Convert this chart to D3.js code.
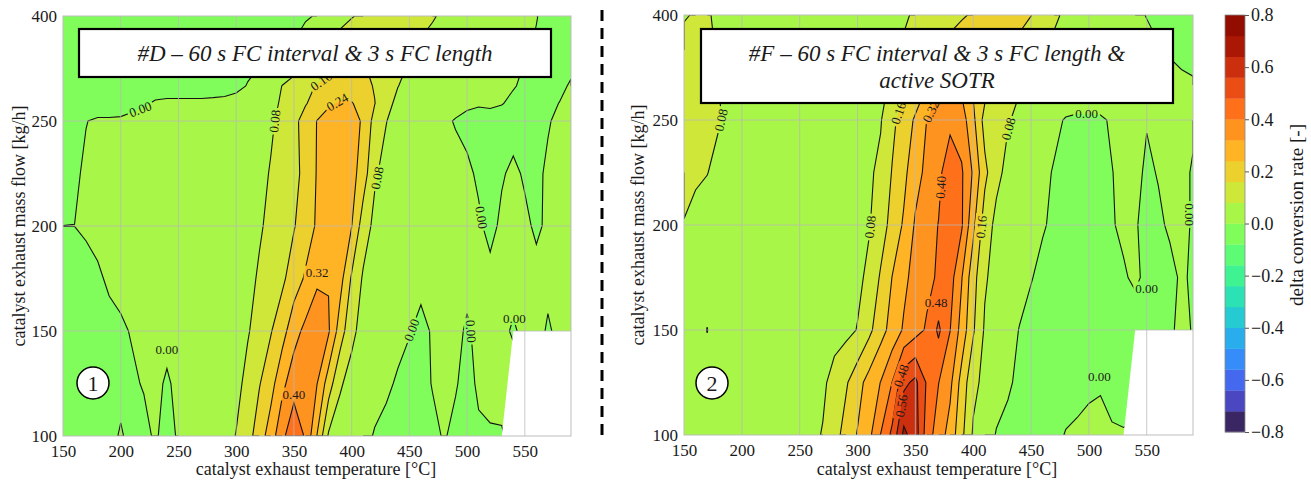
<!DOCTYPE html>
<html>
<head>
<meta charset="utf-8">
<script src="https://cdn.jsdelivr.net/npm/d3@7/dist/d3.min.js"></script>
<style>
  html, body { margin: 0; padding: 0; background: #fff; }
  svg text { font-family: "Liberation Serif", "Times New Roman", serif; fill: #1a1a1a; }
</style>
</head>
<body>
<svg id="chart" width="1311" height="482"></svg>
<script>
// Operating-point grid
const temperatures = [150,160,170,180,190,200,210,220,230,240,250,260,270,280,290,300,310,320,330,340,350,360,370,380,390,400,410,420,430,440,450,460,470,480,490,500,510,520,530,540,550,560,570,580,590];
const massFlows = [100,125,150,175,200,225,250,275,300,350,400];

// Contour levels of the delta conversion rate
const levels = [-0.80,-0.72,-0.64,-0.56,-0.48,-0.40,-0.32,-0.24,-0.16,-0.08,0.00,0.08,0.16,0.24,0.32,0.40,0.48,0.56,0.64,0.72,0.80];

const tempTicks = [150,200,250,300,350,400,450,500,550];
const flowTicks = [100,150,200,250,400];
const rateTicks = [-0.8,-0.6,-0.4,-0.2,0.0,0.2,0.4,0.6,0.8];

// Operating range without measurements (°C, kg/h)
const noDataRegion = [[530,100],[540,150],[590,150],[590,100]];

// Delta conversion rate x100; one row per mass flow (100 ... 400 kg/h), columns 150 ... 590 °C
const rateD = [
  [-3,-3,-3,-3,-3, 1,-3,-2,1,-3, 1,2.5,3.5,4.5,6, 8.2,13,20,28,38, 46,39,23.8,7,4, 3,2,-0.5,-2,-3, -3,-2.5,-1.5,0.5,-1.5, -3,-1,-0.5,-0.5,2, 2,2,2,2,2],
  [-3,-3,-3,-3,-3, -3,-1,0.5,1.5,-0.8, 1.5,2.5,3,4,5, 6.5,9.5,15.5,21,30, 36.5,37,32.2,20,9, 5,3.5,2.5,1.2,-0.8, -2,-2,0.3,1.5,0.5, -2,1,1.5,2,2, 2,2,2,2,2],
  [-3,-3,-3,-2.5,-2, -1,0.5,1.5,2,2, 2.5,3,3.5,4,5, 6,7.6,10,15.5,21, 29,34,36,33,20, 10,5,3,2.5,2, 0.3,-1.5,0.5,1.5,1, -0.5,1,1.5,1,-0.5, 1,1.5,-0.5,1,1.5],
  [-3,-2.5,-2,-1,1, 2,2.5,3,3,3, 3,3.5,4,4.5,5, 5.5,6.8,8.5,11,14.5, 20,25,31,31.5,27, 15,7,5,4,3.5, 2.5,1.5,2,2,2, 1,1.5,1.5,1.5,1.5, 1.5,1.5,1,1.5,1.5],
  [0.02,0.02,0.8,2,2.5, 3,3,3,3,3, 3,3,3.5,4,4.5, 5,6,7.5,9,11.5, 15.5,20,25,29,30, 24.2,12,6,4.5,4, 3.5,3,3,2.5,2, 1.5,0.8,-1.5,1,1.5, 1,-0.8,0.8,1.5,1.5],
  [-2,-0.6,0.6,1.5,2, 2.5,2.5,2.5,2.5,2.5, 2.5,2.5,3,3.5,4, 4.5,5,6,8.5,11, 14,18,24.5,27,28.5, 27,20,9,5.5,4, 3.5,3,2.5,2,1.5, 1,-0.8,-2,-0.5,1, -0.6,-0.8,0.6,1.5,2],
  [-2,-1,-0.1,0.5,0.5, 0.5,1,1.5,2,2, 2,2,2,2,2.5, 3,4,5,7,10, 14,19,24.2,27,28, 27,23,13,8.2,5, 4,3,2,0.8,-0.3, -1.5,-2,-2,-2,-2, -2,-1.5,-0.3,0.8,1.5],
  [-2.5,-2.5,-2,-2,-2, -1.5,-1,-0.5,0.5,0.8, 0.8,0.8,0.8,1,1, 1.5,2.5,4,6,9, 12,15.5,19,23,24.8, 24.5,21,16.2,10.5,6, 4,3,2.5,2,1.5, 1,0.5,0.8,0.2,-1, -2,-2,-1,0.1,0.8],
  [-2.5,-2.5,-2.5,-2.5,-2.5, -2.5,-2,-2,-2,-2, -2,-2,-2,-2,-1.5, -1,0.2,2,4.5,8.2, 11,14,16.5,18.5,20, 20,18,15.5,11,8.2, 5.5,4,3,2.5,2, 1.5,1.2,1,0.8,0.3, -0.8,-2,-2,-1,0.5],
  [-2.5,-2.5,-2.5,-2.5,-2.5, -2.5,-2.5,-2.5,-2.5,-2.5, -2.5,-2.5,-2.5,-2.5,-2, -2,-1.5,-1.5,-1,-0.6, 0.6,3,7,10,13, 15,15.5,14,12,10, 8.8,6.5,4.5,3.5,2.5, 2,1.5,1,0.8,0.5, 0.3,-0.3,-1.5,-2,-2],
  [-2.5,-2.5,-2.5,-2.5,-2.5, -2.5,-2.5,-2.5,-2.5,-2.5, -2.5,-2.5,-2.5,-2.5,-2.5, -2.5,-2,-2,-2,-1.5, -1.5,-0.6,0.4,2.5,5, 7.5,9.5,11,12,12, 11.5,10.5,8.8,6.5,5, 4,3,2,1.5,1, 0.5,0.1,-0.7,-1.5,-2]
];

const rateF = [
  [3,3,3,3,3, 3,3,3,3.5,3.5, 4.5,6,8.5,13,19, 24.5,30,40.2,50,66, 60,44,36,29,18, 7,4.5,-0.5,-2,-2.5, -3,-2.5,-1.5,0.3,1, 1.5,1.5,1,0.5,1, 1,1,1,1,1],
  [3,3,3,3,3, 3,3,3.5,3.5,4, 4.5,5.5,6.5,11,15, 21,27,32.2,40.2,54, 58,47,40.2,34,21, 10,6,3.5,1,-1.5, -2.5,-3,-3,-2.5,-2, -1,-0.5,-3,-3,-3, -2,-2,-2,-2,-2],
  [3,3,8.3,3,3, 3,3,3,3,3, 3.5,4,4.5,5,6, 8.3,14,21,27,33, 37,41,49.5,40.2,29, 17,7,4,2,-0.2, -2,-3,-3,-3,-3, -2.5,-2.5,-3,-3,-2.5, -1.5,-1,-0.5,0.8,-0.2],
  [3,3,3,3,3, 3,3,3,3,3, 3.5,4,4.5,5,5.5, 6.5,9.5,17,24.2,30, 35,38,41,43.5,32.5, 19,9,5,3,2, 0.3,-1.5,-3,-3,-3, -3,-2.5,-2,-0.5,0.8, -1,-1.5,-1,0.5,-0.5],
  [7.8,6,4.5,3.5,3, 3,3,3,3,3, 3,3.5,4,4.5,5, 5.5,7.5,12,19,25, 33,37,40.2,46,41, 26,12,6,4,3, 2,0.5,-1,-2.5,-3, -3,-2,-0.3,0.8,0.3, -1,-0.6,0.5,0.8,-0.3],
  [9.5,9,8.2,6,4, 3.5,3,3,3,3, 3,3,3.5,4,4.5, 5.5,7,9.5,16.5,22, 29,34,38,45,41, 31,18,10,6,4, 3,1.5,-0.5,-2.5,-3, -3,-2,-0.1,1,1, -0.6,0.2,1,0.8,-0.3],
  [10,10,9.5,8.5,6, 4.5,3.5,3,3,3, 3,3.5,4,4.5,5, 5.5,6.5,7.5,14,20, 25,32.2,36,38,36, 26,13,10,8.5,6.5, 4.5,3,1.5,-0.5,-0.8, -0.8,-0.6,0.5,1.5,1, 0.2,0.2,1,1,0.5],
  [10,10,9.5,8.3,6, 4.5,3.5,3,3,3, 3,3.5,4,4.5,5, 5.5,6,7,10,17, 22,27,34,35,33, 24.2,16.2,12,9.5,7.5, 6,4.5,3.5,2.5,1.5, 1.5,1.5,1.5,2,2, 1.5,1.5,1.5,1,1],
  [10,10,9.5,7.8,6, 4.5,3.5,3,3,3, 3,3.5,4,4.5,5, 5.5,6,6.5,8.2,12, 17,22,27,30,30, 27,22,16.2,12.5,9.5, 7,5,4,3,2.5, 2,2,2,2,1.5, 1.5,1,1,0.8,0.5],
  [10,10,9,7.5,5.5, 4.5,3.5,3,3,3, 3,3,3,3.5,4, 4.5,5,5.5,7,8.5, 10.5,13,16.2,19,21.5, 22,22,20,17.5,14, 10,8.2,6,4.5,3.5, 3,2.5,2,1.5,1, 0.8,0.3,-0.3,-1,-1.5],
  [7.5,8.5,8.5,7,5, 4,3.5,3,3,3, 3,3,3,3.5,4, 4.5,5,5.5,6.5,7.5, 8.5,10,11.5,13,15, 17,19,20,19.5,18, 16.2,12.5,9.5,6.5,4.5, 3,2,1.5,1,0.6, -0.1,-1,-1.5,-2,-2]
];

// Inline contour labels: level, approximate position (°C, kg/h), optional fixed rotation
const labelsD = [
  {level: 0.00, t: 219, f: 258}, {level: 0.08, t: 332, f: 250}, {level: 0.16, t: 373, f: 308},
  {level: 0.24, t: 388, f: 276}, {level: 0.08, t: 421, f: 223}, {level: 0.00, t: 512, f: 204},
  {level: 0.32, t: 370, f: 178, rot: 0}, {level: 0.40, t: 350, f: 120, rot: 0}, {level: 0.00, t: 240, f: 141, rot: 0},
  {level: 0.00, t: 454, f: 150}, {level: 0.00, t: 506, f: 150}, {level: 0.00, t: 541, f: 156, rot: 0}
];
const labelsF = [
  {level: 0.08, t: 182, f: 250}, {level: 0.16, t: 335, f: 260}, {level: 0.32, t: 364, f: 262},
  {level: 0.08, t: 312, f: 199}, {level: 0.40, t: 371, f: 218}, {level: 0.16, t: 409, f: 199},
  {level: 0.08, t: 429, f: 246}, {level: 0.00, t: 498, f: 260, rot: 0}, {level: 0.00, t: 585, f: 205},
  {level: 0.48, t: 368, f: 163, rot: 0}, {level: 0.48, t: 339, f: 128}, {level: 0.56, t: 337, f: 114},
  {level: 0.00, t: 550, f: 170, rot: 0}, {level: 0.00, t: 509, f: 128, rot: 0}
];

const svg = d3.select("#chart");
const defs = svg.append("defs");
const nx = temperatures.length, ny = massFlows.length;
const lo = levels[0], hi = levels[levels.length - 1];
const bandColor = i => d3.interpolateTurbo(((levels[i] + levels[i + 1]) / 2 - lo) / (hi - lo));
const fmtLevel = d3.format(".2f");

// piecewise-linear lookup from grid index to data value
function lerpGrid(arr, u) {
  const c = Math.max(0, Math.min(arr.length - 1, u));
  const i = Math.min(arr.length - 2, Math.floor(c));
  return arr[i] + (c - i) * (arr[i + 1] - arr[i]);
}

const panels = [
  { key: "d", rate: rateD, xRange: [63, 571], yRange: [436, 331, 226, 121, 16], labels: labelsD,
    title: ["#D – 60 s FC interval & 3 s FC length"], box: {x: 79, y: 29, w: 472, h: 48},
    badge: "1", badgeX: 93, yTitleX: 19, xTitleX: 316 },
  { key: "f", rate: rateF, xRange: [684, 1193], yRange: [435, 330, 225, 120, 15], labels: labelsF,
    title: ["#F – 60 s FC interval & 3 s FC length &", "active SOTR"], box: {x: 701, y: 29, w: 472, h: 74},
    badge: "2", badgeX: 712, yTitleX: 638, xTitleX: 937 }
];

panels.forEach(p => {
  const x = d3.scaleLinear().domain([temperatures[0], temperatures[nx - 1]]).range(p.xRange);
  const y = d3.scaleLinear().domain(flowTicks).range(p.yRange);
  const left = x(temperatures[0]), right = x(temperatures[nx - 1]);
  const top = y(massFlows[ny - 1]), bottom = y(massFlows[0]);

  const values = p.rate.flat().map(v => v / 100 + 1e-6);
  const project = pt => [x(lerpGrid(temperatures, pt[0] - 0.5)), y(lerpGrid(massFlows, pt[1] - 0.5))];
  const contours = d3.contours().size([nx, ny]).thresholds(levels.slice(0, -1))(values);
  const fmt = v => v.toFixed(2);

  const clipId = "clip-" + p.key;
  defs.append("clipPath").attr("id", clipId).append("rect")
    .attr("x", left).attr("y", top).attr("width", right - left).attr("height", bottom - top);

  const g = svg.append("g");

  // filled bands
  g.append("g").attr("clip-path", `url(#${clipId})`)
    .selectAll("path").data(contours).join("path")
    .attr("d", c => c.coordinates.map(poly => poly.map(ring =>
        "M" + ring.map(pt => project(pt).map(fmt).join(",")).join("L") + "Z").join("")).join(""))
    .attr("fill", (c, i) => bandColor(i))
    .attr("fill-rule", "evenodd");

  // contour lines (grid border edges are skipped)
  const onEdge = (a, b) => (a[0] === 0 && b[0] === 0) || (a[0] === nx && b[0] === nx) ||
                           (a[1] === 0 && b[1] === 0) || (a[1] === ny && b[1] === ny);
  const segs = {};
  const lineData = [];
  contours.forEach((c, i) => {
    if (i === 0) return;
    segs[i] = [];
    let d = "";
    c.coordinates.forEach(poly => poly.forEach(ring => {
      let last = null;
      for (let k = 0; k < ring.length - 1; k++) {
        const a = ring[k], b = ring[k + 1];
        if (onEdge(a, b)) { last = null; continue; }
        const pa = project(a), pb = project(b);
        segs[i].push([pa, pb]);
        if (last !== a) d += "M" + fmt(pa[0]) + "," + fmt(pa[1]);
        d += "L" + fmt(pb[0]) + "," + fmt(pb[1]);
        last = b;
      }
    }));
    if (d) lineData.push(d);
  });

  const maskId = "gaps-" + p.key;
  const mask = defs.append("mask").attr("id", maskId).attr("maskUnits", "userSpaceOnUse")
    .attr("x", 0).attr("y", 0).attr("width", 1311).attr("height", 482);
  mask.append("rect").attr("width", 1311).attr("height", 482).attr("fill", "#fff");

  g.append("g").attr("clip-path", `url(#${clipId})`).append("g").attr("mask", `url(#${maskId})`)
    .selectAll("path").data(lineData).join("path")
    .attr("d", d => d).attr("fill", "none").attr("stroke", "#141414").attr("stroke-width", 1.1);

  // blank area without measurements
  g.append("path")
    .attr("d", d3.line().x(d => x(d[0])).y(d => y(d[1]))(noDataRegion) + "Z")
    .attr("fill", "#fff");

  // grid
  const grid = g.append("g").attr("stroke", "#b8b8b8").attr("stroke-opacity", 0.75).attr("stroke-width", 1);
  tempTicks.slice(1).forEach(t => grid.append("line").attr("x1", x(t)).attr("x2", x(t)).attr("y1", top).attr("y2", bottom));
  flowTicks.slice(1, -1).forEach(f => grid.append("line").attr("x1", left).attr("x2", right).attr("y1", y(f)).attr("y2", y(f)));
  g.append("rect").attr("x", left).attr("y", top).attr("width", right - left).attr("height", bottom - top)
    .attr("fill", "none").attr("stroke", "#bdbdbd").attr("stroke-width", 1);

  // inline labels
  const labelG = g.append("g");
  p.labels.forEach(l => {
    const k = levels.findIndex(v => Math.abs(v - l.level) < 1e-9);
    const px = x(l.t), py = y(l.f);
    let cx = px, cy = py, ang = l.rot || 0;
    if (l.rot === undefined && segs[k]) {
      let best = null;
      segs[k].forEach(([a, b]) => {
        const dx = b[0] - a[0], dy = b[1] - a[1];
        const len2 = dx * dx + dy * dy || 1;
        const s = Math.max(0, Math.min(1, ((px - a[0]) * dx + (py - a[1]) * dy) / len2));
        const qx = a[0] + s * dx, qy = a[1] + s * dy;
        const d2 = (qx - px) ** 2 + (qy - py) ** 2;
        if (!best || d2 < best.d2) best = {d2, qx, qy, ang: Math.atan2(dy, dx) * 180 / Math.PI};
      });
      if (best && best.d2 < 900) {
        cx = best.qx; cy = best.qy; ang = best.ang;
        if (ang > 90) ang -= 180;
        if (ang < -90) ang += 180;
      }
    }
    const txt = labelG.append("text")
      .attr("transform", `translate(${fmt(cx)},${fmt(cy)}) rotate(${fmt(ang)})`)
      .attr("text-anchor", "middle").attr("dominant-baseline", "central")
      .attr("font-size", 13).text(fmtLevel(l.level));
    const w = txt.node().getComputedTextLength();
    mask.append("rect")
      .attr("x", -w / 2 - 2).attr("y", -6.5).attr("width", w + 4).attr("height", 13)
      .attr("transform", `translate(${fmt(cx)},${fmt(cy)}) rotate(${fmt(ang)})`)
      .attr("fill", "#000");
  });

  // axes
  const xAxis = g.append("g").attr("transform", `translate(0,${bottom})`)
    .call(d3.axisBottom(x).tickValues(tempTicks).tickSize(0).tickPadding(9));
  xAxis.attr("font-size", 17).select(".domain").remove();
  const yAxis = g.append("g").attr("transform", `translate(${left},0)`)
    .call(d3.axisLeft(y).tickValues(flowTicks).tickSize(0).tickPadding(6));
  yAxis.attr("font-size", 17).select(".domain").remove();

  g.append("text").attr("x", p.xTitleX).attr("y", 475).attr("text-anchor", "middle")
    .attr("font-size", 18).text("catalyst exhaust temperature [°C]");
  g.append("text").attr("transform", `translate(${p.yTitleX},${(top + bottom) / 2}) rotate(-90)`)
    .attr("text-anchor", "middle").attr("dominant-baseline", "central")
    .attr("font-size", 18).text("catalyst exhaust mass flow [kg/h]");

  // title box
  g.append("rect").attr("x", p.box.x).attr("y", p.box.y).attr("width", p.box.w).attr("height", p.box.h)
    .attr("fill", "#fff").attr("stroke", "#000").attr("stroke-width", 2.2);
  p.title.forEach((line, i) => {
    g.append("text").attr("x", p.box.x + p.box.w / 2).attr("y", 61 + i * 27)
      .attr("text-anchor", "middle").attr("font-size", 23).attr("font-style", "italic")
      .text(line);
  });

  // panel number badge
  g.append("circle").attr("cx", p.badgeX).attr("cy", 383).attr("r", 16)
    .attr("fill", "#fff").attr("stroke", "#000").attr("stroke-width", 1.5);
  g.append("text").attr("x", p.badgeX).attr("y", 383).attr("text-anchor", "middle")
    .attr("dominant-baseline", "central").attr("font-size", 22).text(p.badge);
});

// separator between the two panels
svg.append("line").attr("x1", 602).attr("x2", 602).attr("y1", 10).attr("y2", 438)
  .attr("stroke", "#000").attr("stroke-width", 3).attr("stroke-dasharray", "11,7");

// colour bar
const cbY = d3.scaleLinear().domain([lo, hi]).range([432, 15]);
const cb = svg.append("g");
cb.selectAll("rect.band").data(levels.slice(0, -1)).join("rect").attr("class", "band")
  .attr("x", 1225).attr("width", 20)
  .attr("y", (d, i) => cbY(levels[i + 1])).attr("height", (d, i) => cbY(levels[i]) - cbY(levels[i + 1]) + 0.3)
  .attr("fill", (d, i) => bandColor(i));
cb.append("rect").attr("x", 1225).attr("y", cbY(hi)).attr("width", 20).attr("height", cbY(lo) - cbY(hi))
  .attr("fill", "none").attr("stroke", "#8a8a8a").attr("stroke-width", 0.8);
const cbAxis = cb.append("g").attr("transform", "translate(1245,0)")
  .call(d3.axisRight(cbY).tickValues(rateTicks).tickFormat(d3.format(".1f")).tickSize(4).tickPadding(2));
cbAxis.attr("font-size", 18).select(".domain").remove();
cbAxis.selectAll(".tick line").attr("stroke", "#555");
cb.append("text").attr("transform", "translate(1296,215) rotate(-90)")
  .attr("text-anchor", "middle").attr("dominant-baseline", "central")
  .attr("font-size", 19).text("delta conversion rate [-]");
</script>
</body>
</html>
